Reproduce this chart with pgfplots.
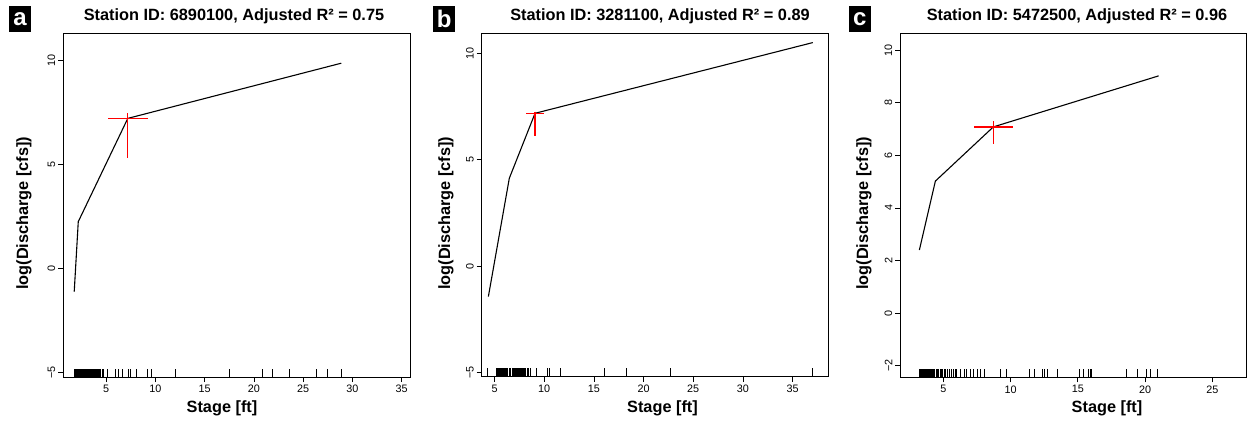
\documentclass[border=0pt]{standalone}
\usepackage{fontspec}
\setmainfont{Liberation Sans}
\usepackage{pgfplots}
\pgfplotsset{compat=1.18}
\pgfdeclareplotmark{rug}{\pgfpathmoveto{\pgfpointorigin}\pgfpathlineto{\pgfpoint{0pt}{8.5pt}}\pgfusepathqstroke}
\definecolor{rred}{RGB}{255,0,0}
\pgfplotsset{rplot/.style={
  scale only axis, anchor=south west,
  axis line style={line width=0.7pt},
  tick align=outside, xtick pos=left, ytick pos=left,
  major tick length=5pt, tick style={black,line width=0.7pt},
  ticklabel style={font=\fontsize{10.8}{12}\selectfont},
  /pgf/number format/assume math mode=true,
  xticklabel style={yshift=-3pt, anchor=north, inner sep=0pt},
  yticklabel style={xshift=-2.5pt, rotate=90, anchor=south, inner sep=0pt},
  clip=false,
},
rugplot/.style={black, only marks, mark=rug, mark options={line width=0.7pt}},
fitline/.style={black, line width=1.1pt, mark=none},
redcross/.style={draw=rred, line width=1.3pt, mark=none},
}
\newcommand\lbl{\bfseries\fontsize{16.3}{18}\selectfont}
\begin{document}
\begin{tikzpicture}
\useasboundingbox (0pt,0pt) rectangle (1249pt,-423pt);
% ---------------- panel a
\begin{axis}[rplot, at={(63pt,-377pt)}, width=347pt, height=344pt,
  xmin=0.61, xmax=35.84, ymin=-5.21, ymax=11.31,
  xtick={5,10,15,20,25,30,35}, ytick={-5,0,5,10}, yticklabels={−5,0,5,10}]
\addplot[fitline] coordinates {(1.75,-1.11) (2.16,2.25) (7.19,7.21) (28.86,9.86)};
\addplot[redcross] coordinates {(5.21,7.21) (9.22,7.21)};
\addplot[redcross] coordinates {(7.19,7.46) (7.19,5.30)};
\addplot[rugplot] coordinates {(1.76,-5.21) (1.85,-5.21) (1.92,-5.21) (2.0,-5.21) (2.08,-5.21) (2.15,-5.21) (2.22,-5.21) (2.3,-5.21) (2.38,-5.21) (2.45,-5.21) (2.55,-5.21) (2.62,-5.21) (2.7,-5.21) (2.8,-5.21) (2.9,-5.21) (3.0,-5.21) (3.08,-5.21) (3.15,-5.21) (3.25,-5.21) (3.35,-5.21) (3.45,-5.21) (3.55,-5.21) (3.65,-5.21) (3.75,-5.21) (3.85,-5.21) (3.95,-5.21) (4.05,-5.21) (4.15,-5.21) (4.3,-5.21) (4.45,-5.21) (4.6,-5.21) (4.71,-5.21)
 (5.15,-5.21) (5.9,-5.21) (6.23,-5.21) (6.64,-5.21) (7.25,-5.21) (7.49,-5.21) (8.03,-5.21) (9.18,-5.21) (9.53,-5.21) (12.0,-5.21) (17.49,-5.21) (20.85,-5.21) (21.84,-5.21) (23.6,-5.21) (26.31,-5.21) (27.43,-5.21) (28.85,-5.21)};
\end{axis}
% ---------------- panel b
\begin{axis}[rplot, at={(481.5pt,-376.7pt)}, width=346.8pt, height=343.7pt,
  xmin=3.69, xmax=38.6, ymin=-5.19, ymax=10.95,
  xtick={5,10,15,20,25,30,35}, ytick={-5,0,5,10}, yticklabels={−5,0,5,10}]
\addplot[fitline] coordinates {(4.38,-1.43) (6.49,4.13) (9.08,7.18) (37.04,10.5)};
\addplot[redcross] coordinates {(8.17,7.18) (10.01,7.18)};
\addplot[redcross] coordinates {(9.08,7.26) (9.08,6.12)};
\addplot[rugplot] coordinates {(4.32,-5.19) (5.22,-5.19) (5.3,-5.19) (5.4,-5.19) (5.5,-5.19) (5.6,-5.19) (5.7,-5.19) (5.8,-5.19) (5.9,-5.19) (6.0,-5.19) (6.1,-5.19) (6.2,-5.19) (6.3,-5.19) (6.45,-5.19) (6.6,-5.19) (6.75,-5.19) (6.85,-5.19) (6.95,-5.19) (7.05,-5.19) (7.15,-5.19) (7.25,-5.19) (7.35,-5.19) (7.45,-5.19) (7.55,-5.19) (7.65,-5.19) (7.75,-5.19) (7.85,-5.19) (7.95,-5.19) (8.05,-5.19) (8.15,-5.19) (8.3,-5.19) (8.45,-5.19) (8.65,-5.19)
 (9.25,-5.19) (10.32,-5.19) (10.52,-5.19) (11.66,-5.19) (16.03,-5.19) (18.31,-5.19) (22.67,-5.19) (37.04,-5.19)};
\end{axis}
% ---------------- panel c
\begin{axis}[rplot, at={(900pt,-377.3pt)}, width=346.7pt, height=344.3pt,
  xmin=1.78, xmax=27.56, ymin=-2.44, ymax=10.65,
  xtick={5,10,15,20,25}, ytick={-2,0,2,4,6,8,10}, yticklabels={−2,0,2,4,6,8,10}]
\addplot[fitline] coordinates {(3.22,2.40) (4.41,5.02) (8.72,7.08) (21.01,9.02)};
\addplot[redcross] coordinates {(7.30,7.08) (10.16,7.08)};
\addplot[redcross] coordinates {(8.72,7.30) (8.72,6.42)};
\addplot[rugplot] coordinates {(3.22,-2.44) (3.3,-2.44) (3.38,-2.44) (3.45,-2.44) (3.52,-2.44) (3.6,-2.44) (3.68,-2.44) (3.75,-2.44) (3.82,-2.44) (3.9,-2.44) (3.98,-2.44) (4.05,-2.44) (4.12,-2.44) (4.2,-2.44) (4.28,-2.44) (4.35,-2.44) (4.45,-2.44) (4.55,-2.44) (4.65,-2.44) (4.75,-2.44) (4.85,-2.44) (4.95,-2.44) (5.05,-2.44) (5.15,-2.44) (5.3,-2.44) (5.45,-2.44) (5.6,-2.44) (5.75,-2.44) (5.9,-2.44) (6.0,-2.44)
 (6.29,-2.44) (6.54,-2.44) (6.74,-2.44) (6.98,-2.44) (7.23,-2.44) (7.53,-2.44) (7.78,-2.44) (8.03,-2.44) (9.22,-2.44) (9.71,-2.44) (11.39,-2.44) (11.74,-2.44) (12.39,-2.44) (12.49,-2.44) (12.73,-2.44) (13.48,-2.44) (15.11,-2.44) (15.41,-2.44) (15.78,-2.44) (15.9,-2.44) (15.98,-2.44) (18.63,-2.44) (19.42,-2.44) (20.07,-2.44) (20.42,-2.44) (20.94,-2.44)};
\end{axis}
% ---------------- titles, labels, panel letters
\foreach \cx/\txt in {234/{6890100, Adjusted R² = 0.75}, 660/{3281100, Adjusted R² = 0.89}, 1077/{5472500, Adjusted R² = 0.96}}
  \node[anchor=base, inner sep=0pt, font=\lbl] at (\cx pt,-20.5pt) {Station ID: \txt};
\foreach \cx in {222,662.5,1107}
  \node[anchor=base, inner sep=0pt, font=\lbl] at (\cx pt,-412pt) {Stage [ft]};
\foreach \bx in {28,450,868}
  \node[anchor=base, rotate=90, inner sep=0pt, font=\lbl] at (\bx pt,-213.3pt) {log(Discharge [cfs])};
\foreach \lx/\l in {20/a, 444.2/b, 859.7/c}
  \node[fill=black, text=white, minimum width=22pt, minimum height=26pt, inner sep=0pt, font=\bfseries\fontsize{24}{24}\selectfont] at (\lx pt,-19pt) {\l};
\end{tikzpicture}
\end{document}
